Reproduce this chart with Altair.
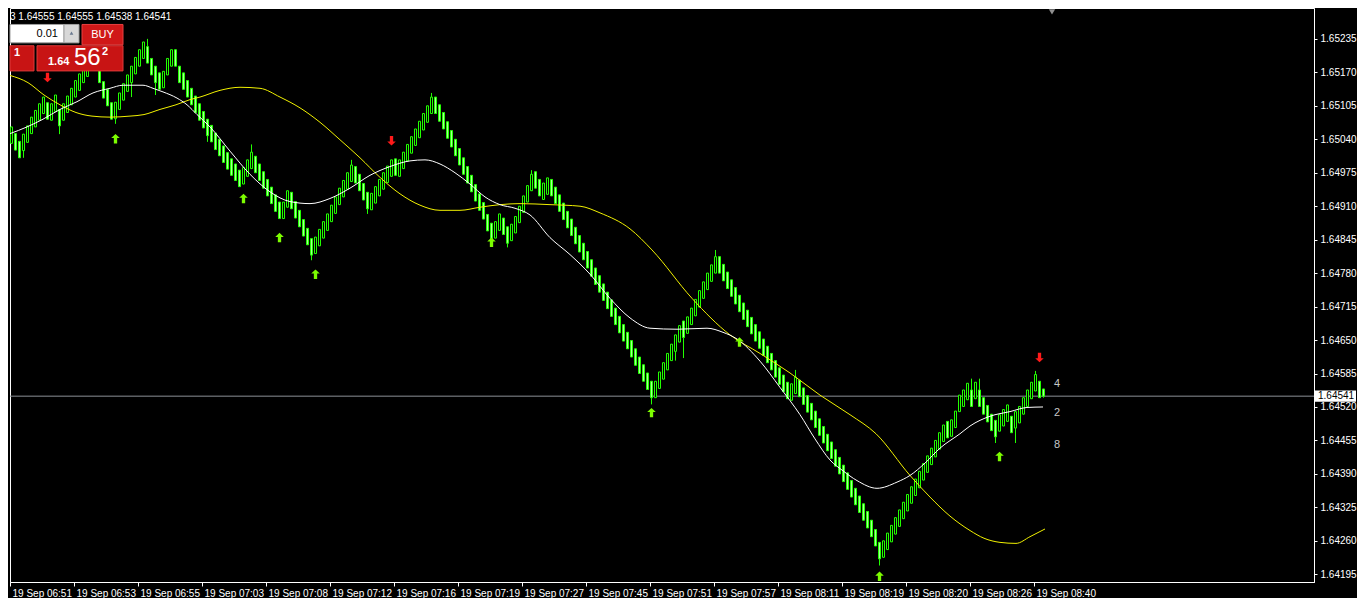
import json
import altair as alt
import pandas as pd

# ---------------- data ----------------
BASE = 1.64000
PT = 0.00001          # close values below are in points above BASE
BODY_PTS = 32         # renko body height in points

CLOSE_PTS = [
    1064, 1019, 1004, 1050, 1066, 1083, 1096, 1109, 1122, 1079,   # 0-9
    1109, 1126, 1066, 1109, 1124, 1139, 1154, 1167, 1182, 1194,   # 10-19
    1206, 1212, 1150, 1120, 1105, 1079, 1112, 1130, 1148, 1165,   # 20-29
    1182, 1199, 1214, 1229, 1188, 1165, 1150, 1137, 1172, 1197,   # 30-39
    1214, 1182, 1150, 1137, 1122, 1107, 1092, 1077, 1062, 1047,   # 40-49
    1035, 1020, 1008, 995, 982, 970, 960, 948, 985, 1000,         # 50-59
    1015, 975, 960, 945, 930, 915, 900, 886, 918, 940,            # 60-69
    905, 887, 870, 852, 835, 815, 850, 865, 880, 895,             # 70-79
    912, 928, 945, 960, 975, 990, 955, 940, 922, 905,             # 80-89
    935, 948, 962, 975, 988, 1000, 970, 1000, 1015, 1030,         # 90-99
    1045, 1060, 1075, 1090, 1105, 1122, 1090, 1075, 1060, 1042,   # 100-109
    1025, 1008, 990, 972, 955, 938, 920, 902, 885, 862,           # 110-119
    845, 880, 895, 855, 838, 875, 890, 910, 930, 950,             # 120-129
    972, 945, 930, 955, 965, 930, 915, 900, 884, 868,             # 130-139
    853, 837, 821, 806, 790, 774, 758, 743, 727, 711,             # 140-149
    696, 680, 664, 648, 633, 617, 601, 585, 570, 554,             # 150-159
    538, 570, 588, 606, 624, 642, 660, 678, 655, 695,             # 160-169
    712, 729, 746, 763, 780, 796, 812, 780, 765, 750,             # 170-179
    735, 720, 705, 690, 676, 662, 648, 634, 620, 606,             # 180-189
    592, 578, 564, 550, 536, 565, 578, 540, 525, 510,             # 190-199
    495, 480, 465, 450, 435, 420, 405, 390, 375, 360,             # 200-209
    345, 330, 315, 300, 285, 268, 250, 225, 260, 275,             # 210-219
    290, 305, 320, 335, 350, 365, 380, 395, 410, 425,             # 220-229
    440, 455, 470, 485, 460, 495, 512, 543, 553, 566,             # 230-239
    521, 568, 521, 506, 491, 474, 462, 505, 515, 524,             # 240-249
    470, 511, 521, 538, 553, 568, 583, 538, 541,                  # 250-258
]
LAST_OHLC = [1.64555, 1.64555, 1.64538, 1.64541]

UP_WICK_I = [34, 60, 85, 105, 130, 176, 196, 240, 242, 256]
UP_WICK_PTS = [1235, 1030, 1000, 1130, 980, 825, 592, 575, 575, 590]
DN_WICK_I = [3, 12, 26, 30, 36, 49, 75, 89, 120, 124, 160, 166, 168, 217, 246, 251]
DN_WICK_PTS = [1004, 1050, 1070, 1122, 1126, 1035, 805, 895, 835, 830, 525, 610, 615, 212, 450, 450]

YELLOW_I = [-0.5, 4, 8, 12, 16, 20, 24.5, 29.5, 33, 37, 41, 44.5, 47, 52, 57, 62, 67, 72, 77,
            82, 87, 92, 97, 102, 107, 112, 117, 122, 127, 134.5, 142, 147, 154.5, 160, 170,
            179.5, 187, 194.5, 202, 209.5, 216, 224.5, 229.5, 234.5, 239.5, 243, 247, 251,
            254.5, 258.25]
YELLOW_PTS = [1164, 1150, 1126, 1107, 1092, 1085, 1083, 1085, 1088, 1098, 1107, 1117, 1122,
              1135, 1141, 1139, 1122, 1101, 1073, 1039, 1004, 966, 934, 912, 902, 902, 908,
              913, 915, 913, 910, 897, 866, 825, 731, 660, 624, 586, 543, 505, 468, 387, 345,
              308, 280, 265, 257, 255, 268, 283]

WHITE_I = [-0.5, 3.75, 7.75, 12, 16.25, 20.25, 24.5, 27.75, 32.75, 35.25, 37.75, 41.25, 43.75,
           46.25, 49.5, 54.5, 59.5, 64.5, 69.5, 74.5, 79.5, 84.5, 89.5, 94.5, 99.5, 103.25, 107,
           110.75, 114.5, 118.25, 122, 125.75, 129.5, 134.5, 139.5, 144.5, 149.5, 154.5, 159.5,
           166.25, 173.75, 177.75, 181.25, 187, 192, 197, 200.75, 204.5, 207.75, 211.25, 216.25,
           221.25, 224.5, 228.25, 232, 237, 239.5, 244.5, 249.5, 253.75, 257.75]
WHITE_PTS = [1051, 1064, 1079, 1098, 1113, 1130, 1139, 1145, 1145, 1139, 1132, 1120, 1107,
             1088, 1064, 1017, 972, 938, 919, 915, 925, 945, 970, 987, 998, 1000, 992, 975,
             953, 928, 913, 906, 893, 849, 816, 778, 731, 693, 673, 671, 673, 665, 652, 609,
             558, 505, 458, 417, 396, 377, 362, 374, 387, 411, 440, 468, 483, 502, 511, 519, 520]

FRACTAL_UP_I = [26, 58, 67, 76, 120, 160, 182, 217, 247]
FRACTAL_UP_PTS = [1041, 925, 849, 778, 840, 509, 646, 191, 424]
FRACTAL_DN_I = [9, 95, 257]
FRACTAL_DN_PTS = [1160, 1037, 616]

Y_TICKS = [1.64195, 1.64260, 1.64325, 1.64390, 1.64455, 1.64520, 1.64585, 1.64650, 1.64715,
           1.64780, 1.64845, 1.64910, 1.64975, 1.65040, 1.65105, 1.65170, 1.65235]
X_TICK_LABELS = ["19 Sep 06:51", "19 Sep 06:53", "19 Sep 06:55", "19 Sep 07:03", "19 Sep 07:08",
                 "19 Sep 07:12", "19 Sep 07:16", "19 Sep 07:19", "19 Sep 07:27", "19 Sep 07:45",
                 "19 Sep 07:51", "19 Sep 07:57", "19 Sep 08:11", "19 Sep 08:19", "19 Sep 08:20",
                 "19 Sep 08:26", "19 Sep 08:40"]
BARS_PER_LABEL = 16
CURRENT_PRICE = 1.64541
HEADER = "3  1.64555 1.64555 1.64538 1.64541"
SIDE_NUMBERS = ["4", "2", "8"]

# ---------------- build tables ----------------
rows = []
for i, c in enumerate(CLOSE_PTS):
    close = BASE + c * PT
    bull = True if i == 0 else c > CLOSE_PTS[i - 1]
    op = close - BODY_PTS * PT if bull else close + BODY_PTS * PT
    hi, lo = max(op, close), min(op, close)
    rows.append(dict(i=i, open=op, close=close, high=hi, low=lo))
last = rows[-1]
last["open"], last["high"], last["low"], last["close"] = LAST_OHLC
for k, v in zip(UP_WICK_I, UP_WICK_PTS):
    rows[k]["high"] = max(rows[k]["high"], BASE + v * PT)
for k, v in zip(DN_WICK_I, DN_WICK_PTS):
    rows[k]["low"] = min(rows[k]["low"], BASE + v * PT)
candles = pd.DataFrame(rows)
candles["kind"] = ["bull" if c > o else "bear" for o, c in zip(candles["open"], candles["close"])]
# pixel-aligned geometry: 4 px per bar, 2 px body + 1 px outline
candles["xl"] = candles["i"] - 0.375
candles["xr"] = candles["i"] + 0.125
candles["xw"] = candles["i"] - 0.125

yellow = pd.DataFrame({"i": YELLOW_I, "p": [BASE + v * PT for v in YELLOW_PTS]})
white = pd.DataFrame({"i": WHITE_I, "p": [BASE + v * PT for v in WHITE_PTS]})
fr_up = pd.DataFrame({"i": [k - 0.125 for k in FRACTAL_UP_I], "p": [BASE + v * PT for v in FRACTAL_UP_PTS]})
fr_dn = pd.DataFrame({"i": [k - 0.125 for k in FRACTAL_DN_I], "p": [BASE + v * PT for v in FRACTAL_DN_PTS]})
cur = pd.DataFrame({"p": [CURRENT_PRICE], "lo": [CURRENT_PRICE - 0.00011],
                    "hi": [CURRENT_PRICE + 0.00011], "t": [f"{CURRENT_PRICE:.5f}"]})

# ---------------- layout / style ----------------
W, H = 1304, 574
REF_H = 593
SX, SY = 1.0, H / REF_H
FONT = "Liberation Sans"
GREEN = "#22ff00"
ONE = pd.DataFrame({"k": [0]})

x_ticks = [BARS_PER_LABEL * k - 0.5 for k in range(len(X_TICK_LABELS))]
XS = alt.Scale(domain=[-0.5, 325.5], nice=False, zero=False)
YS = alt.Scale(domain=[1.64180, 1.65295], nice=False, zero=False)
AX = alt.Axis(values=x_ticks, title=None, grid=False,
              labelExpr=f"{json.dumps(X_TICK_LABELS)}[round((datum.value + 0.5) / {BARS_PER_LABEL})]",
              labelAlign="left", labelBaseline="top", labelOffset=2, labelPadding=2,
              labelFlush=False, labelOverlap=False, labelColor="#ffffff", labelFont=FONT,
              labelFontSize=10, tickColor="#ffffff", tickSize=4, domainColor="#ffffff")
AY = alt.Axis(values=Y_TICKS, orient="right", format=".5f", title=None, grid=False,
              labelFlush=False, labelOverlap=False, labelColor="#ffffff", labelFont=FONT,
              labelFontSize=10, tickColor="#ffffff", tickSize=3, labelPadding=3,
              domainColor="#ffffff")


def X(f):
    return alt.X(f"{f}:Q", scale=XS, axis=AX)


def Y(f):
    return alt.Y(f"{f}:Q", scale=YS, axis=AY)


def rect(x0, y0, x1, y1, fill, stroke=None):
    return alt.Chart(ONE).mark_rect(fill=fill, stroke=stroke or fill, strokeWidth=1).encode(
        x=alt.value(x0 * SX), x2=alt.value(x1 * SX), y=alt.value(y0 * SY), y2=alt.value(y1 * SY))


def label(x, y, s, size=10, color="#ffffff", align="left", weight="normal"):
    return alt.Chart(ONE).mark_text(text=s, fontSize=size, color=color, align=align,
                                    baseline="middle", fontWeight=weight, font=FONT).encode(
        x=alt.value(x * SX), y=alt.value(y * SY))


UP_PATH = "M0,-1L0.9,-0.15L0.35,-0.15L0.35,1L-0.35,1L-0.35,-0.15L-0.9,-0.15Z"
DN_PATH = "M0,1L0.9,0.15L0.35,0.15L0.35,-1L-0.35,-1L-0.35,0.15L-0.9,0.15Z"

price_line = alt.Chart(cur).mark_rule(color="#8c9096", strokeWidth=1).encode(
    y=Y("p"), x=alt.value(0), x2=alt.value(W))
wicks = alt.Chart(candles).mark_rule(color=GREEN, strokeWidth=1).encode(
    x=X("xw"), y=Y("low"), y2="high")
bodies = alt.Chart(candles).mark_rect(stroke=GREEN, strokeWidth=1).encode(
    x=X("xl"), x2="xr", y=Y("open"), y2="close",
    fill=alt.Color("kind:N", scale=alt.Scale(domain=["bull", "bear"], range=["#000000", "#a8ff98"]),
                   legend=None))
yellow_line = alt.Chart(yellow).mark_line(color="#f2f200", strokeWidth=1, interpolate="monotone").encode(
    x=X("i"), y=Y("p"))
white_line = alt.Chart(white).mark_line(color="#ffffff", strokeWidth=1, interpolate="monotone").encode(
    x=X("i"), y=Y("p"))
up_arrows = alt.Chart(fr_up).mark_point(shape=UP_PATH, filled=True, size=90, color="#7cfc00",
                                        opacity=1).encode(x=X("i"), y=Y("p"))
dn_arrows = alt.Chart(fr_dn).mark_point(shape=DN_PATH, filled=True, size=90, color="#ff1a1a",
                                        opacity=1).encode(x=X("i"), y=Y("p"))
tag_box = alt.Chart(cur).mark_rect(fill="#ffffff").encode(
    y=Y("lo"), y2="hi", x=alt.value(W + 1), x2=alt.value(W + 42))
tag_text = alt.Chart(cur).mark_text(color="#000000", align="left", baseline="middle", font=FONT,
                                    fontSize=10).encode(y=Y("p"), x=alt.value(W + 4), text="t:N")

deco = [
    label(0, 9, HEADER, size=10),
    rect(0, 17, 54, 36, "#ffffff", "#a0a0a0"),
    label(48, 27, "0.01", size=11, color="#000000", align="right"),
    rect(54, 17, 69, 36, "#d8d8d8", "#a0a0a0"),
    alt.Chart(ONE).mark_point(shape="triangle-up", filled=True, size=14, color="#6a7a90",
                              opacity=1).encode(x=alt.value(61.5 * SX), y=alt.value(26 * SY)),
    rect(72, 17, 113, 38, "#d01818", "#e84040"),
    label(92.5, 28, "BUY", size=11, align="center"),
    rect(0, 39, 24, 65, "#c81414", "#e03a3a"),
    label(4, 47, "1", size=11, weight="bold"),
    rect(27, 39, 113, 65, "#c81414", "#e03a3a"),
    label(38, 56, "1.64", size=11, weight="bold"),
    label(64, 52, "56", size=24),
    label(92, 45, "2", size=11, weight="bold"),
    alt.Chart(ONE).mark_point(shape="triangle-down", filled=True, size=40, color="#909090",
                              opacity=1).encode(x=alt.value(1042 * SX), y=alt.value(4 * SY)),
]
for n, yy in zip(SIDE_NUMBERS, [388, 418, 451]):
    deco.append(label(1044, yy, n, size=11, color="#c8c8c8"))

chart = alt.layer(
    price_line, wicks, bodies, yellow_line, white_line, up_arrows, dn_arrows,
    *deco, tag_box, tag_text,
).properties(
    width=W, height=H, background="#000000",
    padding={"left": 0, "top": 0, "right": 0, "bottom": 0},
).configure_view(stroke="#ffffff", strokeWidth=1, fill="#000000")

chart.save("out.html", embed_options={"renderer": "svg", "actions": False})
